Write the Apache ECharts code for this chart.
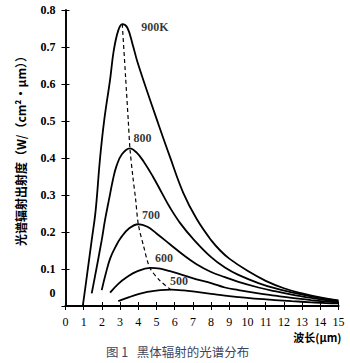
<!DOCTYPE html>
<html>
<head>
<meta charset="utf-8">
<script src="https://cdn.jsdelivr.net/npm/echarts@6/dist/echarts.min.js"></script>
<style>
html,body{margin:0;padding:0;background:#fff;}
#c{width:350px;height:363px;}
</style>
</head>
<body>
<div id="c"></div>
<script>
// wavelength (μm), spectral exitance W/(cm²·μm)
const t900 = [[0.95,0.0],[1.2,0.09],[1.44,0.178],[1.65,0.255],[1.9,0.40],[2.13,0.503],[2.45,0.612],[2.65,0.69],[2.9,0.745],[3.12,0.762],[3.4,0.752],[3.7,0.705],[3.95,0.66],[4.46,0.584],[5.01,0.505],[5.74,0.403],[6.47,0.306],[7.21,0.235],[8.0,0.178],[8.5,0.150],[9.0,0.128],[10.0,0.095],[11.0,0.068],[12.0,0.048],[13.0,0.034],[14.0,0.023],[15.0,0.015]];
const t800 = [[1.44,0.034],[1.62,0.08],[1.99,0.178],[2.17,0.232],[2.4,0.29],[2.6,0.34],[2.8,0.378],[3.1,0.41],[3.54,0.426],[3.9,0.415],[4.3,0.39],[4.8,0.35],[5.3,0.305],[5.74,0.266],[6.3,0.224],[7.0,0.182],[8.0,0.132],[8.76,0.104],[9.5,0.084],[10.6,0.062],[11.5,0.048],[12.43,0.037],[13.5,0.026],[14.3,0.019],[15.0,0.013]];
const t700 = [[1.99,0.043],[2.2,0.085],[2.45,0.128],[2.75,0.16],[3.05,0.185],[3.5,0.21],[4.0,0.221],[4.5,0.214],[5.0,0.196],[5.74,0.167],[6.5,0.137],[7.2,0.113],[8.0,0.092],[8.76,0.078],[9.5,0.065],[10.6,0.05],[11.5,0.04],[12.43,0.031],[13.5,0.022],[14.3,0.016],[15.0,0.011]];
const t600 = [[2.45,0.036],[2.9,0.06],[3.4,0.079],[3.9,0.093],[4.64,0.103],[5.2,0.101],[5.74,0.094],[6.5,0.083],[7.2,0.072],[8.0,0.062],[8.76,0.05],[9.5,0.043],[10.6,0.034],[11.5,0.028],[12.43,0.022],[13.5,0.016],[14.3,0.012],[15.0,0.009]];
const t500 = [[2.9,0.013],[3.5,0.024],[4.0,0.032],[4.5,0.038],[5.2,0.043],[5.8,0.044],[6.5,0.042],[7.2,0.038],[8.0,0.033],[8.76,0.028],[9.5,0.024],[10.6,0.019],[11.5,0.016],[12.43,0.013],[13.5,0.010],[14.3,0.008],[15.0,0.007]];
const peakLocus = [[3.12,0.762],[3.3,0.62],[3.45,0.5],[3.54,0.426],[3.7,0.35],[3.85,0.29],[4.0,0.221],[4.3,0.16],[4.64,0.103],[5.2,0.068],[5.8,0.044]];
const curveNames = ['900K','800','700','600','500'];
const curveLabelAt = [[4.92,0.753],[4.23,0.455],[4.70,0.246],[5.41,0.131],[6.24,0.068]];
const xTickLabels = ['0','1','2','3','4','5','6','7','8','9','10','11','12','13','14','15'];
const yTickLabels = ['0','0.1','0.2','0.3','0.4','0.5','0.6','0.7','0.8'];

const chart = echarts.init(document.getElementById('c'), null, {renderer:'svg'});
const serif = '"Liberation Serif", "DejaVu Serif", serif';
const cjk = '"Noto Sans CJK SC", sans-serif';
const frame = {show:true, lineStyle:{color:'#000', width:1.6}};
const tick = {show:true, inside:true, length:4, lineStyle:{color:'#000', width:1}};
const curve = (name, data) => ({
  name, type:'line', data, xAxisIndex:0, yAxisIndex:0,
  showSymbol:false, smooth:0.4, lineStyle:{color:'#000', width:1.8}, silent:true
});
chart.setOption({
  animation:false,
  backgroundColor:'#fff',
  title:{
    text:'图 1   黑体辐射的光谱分布',
    left:106, top:344, padding:0,
    textStyle:{fontFamily:cjk, fontSize:12.5, fontWeight:'normal', color:'#3b4560', lineHeight:15}
  },
  grid:{left:65.5, right:11.5, top:10, bottom:57},
  xAxis:[
    {type:'value', min:0, max:15, interval:1, position:'bottom',
     axisLine:{show:true, lineStyle:{color:'#000', width:2}}, axisTick:tick, splitLine:{show:false},
     axisLabel:{margin:10, color:'#000', fontFamily:serif, fontSize:12,
       formatter:(v,i)=>xTickLabels[i]},
     name:'波长(μm)', nameLocation:'end', nameGap:3,
     nameTextStyle:{fontFamily:cjk, fontSize:11, fontWeight:'bold', color:'#000', align:'right', verticalAlign:'top', padding:[26,0,0,0]}
    },
    {type:'value', min:0, max:15, interval:1, position:'top',
     axisLine:frame, axisTick:tick, axisLabel:{show:false}, splitLine:{show:false}}
  ],
  yAxis:[
    {type:'value', min:0, max:0.8, interval:0.1, position:'left',
     axisLine:frame, axisTick:tick, splitLine:{show:false},
     axisLabel:{margin:10, color:'#000', fontFamily:serif, fontSize:12, fontWeight:'bold',
       formatter:(v,i)=> i===0 ? '{z|'+yTickLabels[0]+'}' : yTickLabels[i],
       rich:{z:{fontFamily:serif, fontSize:12, fontWeight:'bold', color:'#000', padding:[0,0,26,0]}}},
     name:'光谱辐射出射度（W/（cm²・μm））', nameLocation:'middle', nameRotate:90, nameGap:39,
     nameTextStyle:{fontFamily:cjk, fontSize:12, fontWeight:'bold', color:'#000', padding:[0,0,0,20]}
    },
    {type:'value', min:0, max:0.8, interval:0.1, position:'right',
     axisLine:frame, axisTick:tick, axisLabel:{show:false}, splitLine:{show:false}}
  ],
  series:[
    curve(curveNames[0], t900),
    curve(curveNames[1], t800),
    curve(curveNames[2], t700),
    curve(curveNames[3], t600),
    curve(curveNames[4], t500),
    {name:'locus', type:'line', data:peakLocus, showSymbol:false, smooth:0.3, silent:true,
     lineStyle:{color:'#000', width:1.2, type:[4,3]}},
    {name:'labels', type:'scatter', symbolSize:0, silent:true,
     data:curveLabelAt.map((p,i)=>[p[0],p[1],curveNames[i]]),
     label:{show:true, position:'inside', formatter:p=>p.value[2],
       fontFamily:serif, fontSize:12, fontWeight:'bold', color:'#000'}}
  ]
});
</script>
</body>
</html>
